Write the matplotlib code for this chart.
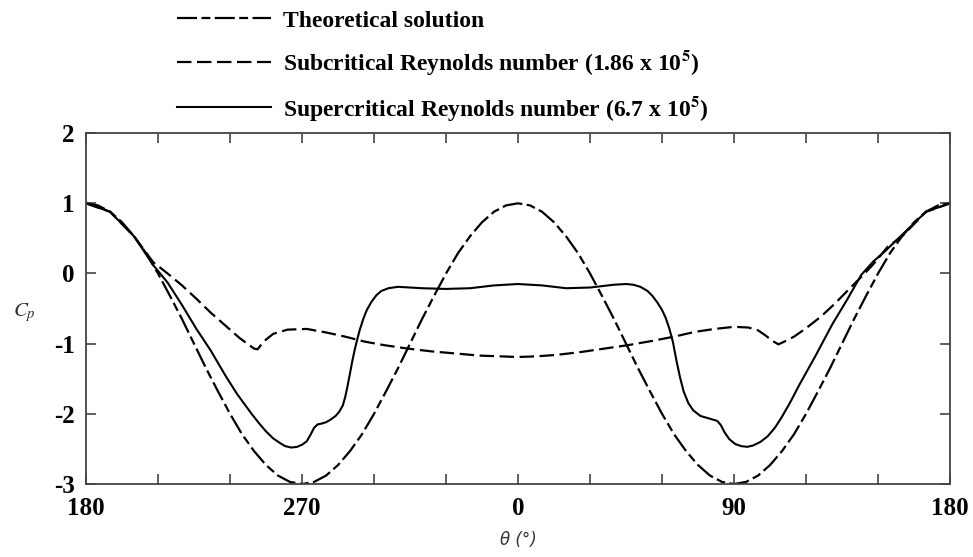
import matplotlib
matplotlib.use("Agg")
import matplotlib.pyplot as plt
import numpy as np

plt.rcParams['font.family'] = 'Liberation Serif'
plt.rcParams['mathtext.fontset'] = 'stix'
plt.rcParams['axes.unicode_minus'] = False

# theoretical solution, read every 5 deg from 180 (left) through 270, 0, 90 to 180
theta_theory = np.arange(-180, 181, 5)
cp_theory = [1.00, 0.97, 0.88, 0.73, 0.53, 0.29, 0.00, -0.32, -0.65, -1.00,
             -1.35, -1.68, -2.00, -2.29, -2.53, -2.73, -2.88, -2.97, -3.00,
             -2.97, -2.88, -2.73, -2.53, -2.29, -2.00, -1.68, -1.35, -1.00,
             -0.65, -0.32, 0.00, 0.29, 0.53, 0.73, 0.88, 0.97, 1.00,
             0.97, 0.88, 0.73, 0.53, 0.29, 0.00, -0.32, -0.65, -1.00,
             -1.35, -1.68, -2.00, -2.29, -2.53, -2.73, -2.88, -2.97, -3.00,
             -2.97, -2.88, -2.73, -2.53, -2.29, -2.00, -1.68, -1.35, -1.00,
             -0.65, -0.32, 0.00, 0.29, 0.53, 0.73, 0.88, 0.97, 1.00]

# subcritical Re = 1.86e5
theta_sub = [-180, -170, -160, -152, -146, -140, -134, -128, -122, -116, -112, -110, -108.5,
             -106, -102, -96, -88, -80, -72, -64, -56, -46, -36, -26, -16, -8, 0,
             8, 16, 26, 36, 46, 56, 65, 74, 82, 90, 96, 100, 103, 106, 108.5, 111, 115,
             120, 126, 132, 138, 143, 148, 154, 160, 170, 180]
cp_sub = [1.00, 0.88, 0.53, 0.16, 0.00, -0.17, -0.36, -0.56, -0.74, -0.92, -1.02, -1.07, -1.08,
          -0.97, -0.86, -0.80, -0.79, -0.84, -0.90, -0.97, -1.02, -1.07, -1.11, -1.14,
          -1.17, -1.18, -1.19, -1.18, -1.16, -1.12, -1.07, -1.02, -0.96, -0.90, -0.83,
          -0.79, -0.76, -0.77, -0.81, -0.88, -0.96, -1.01, -0.97, -0.90, -0.78, -0.62,
          -0.43, -0.22, -0.05, 0.13, 0.38, 0.53, 0.88, 1.00]

# supercritical Re = 6.7e5
theta_sup = [-180, -170, -160, -152, -146, -140, -134, -128, -122, -117, -114, -111, -108,
             -105, -102, -99, -97, -94.5, -92, -90, -88, -86.5, -85, -83.5, -82, -80, -78,
             -76, -74.5, -73, -72, -71, -70, -69, -68, -67, -66, -64.5, -63, -61, -59,
             -57, -54, -50, -40, -30, -20, -10, 0, 10, 20, 30, 40, 45, 48, 51, 54, 56,
             58, 60, 61.5, 63, 64.5, 66, 67.5, 69, 71, 73, 76, 80, 83, 84.5, 86, 88,
             90.5, 93, 95.5, 98, 101, 104, 107, 110, 113.5, 117, 124, 131, 137, 143,
             148, 153, 160, 170, 180]
cp_sup = [1.00, 0.88, 0.53, 0.12, -0.13, -0.45, -0.79, -1.10, -1.45, -1.72, -1.86, -2.00,
          -2.13, -2.25, -2.35, -2.42, -2.46, -2.48, -2.47, -2.44, -2.39, -2.30, -2.20,
          -2.15, -2.14, -2.12, -2.08, -2.03, -1.97, -1.88, -1.76, -1.60, -1.42, -1.24,
          -1.08, -0.94, -0.81, -0.65, -0.52, -0.40, -0.31, -0.25, -0.21, -0.19, -0.21,
          -0.22, -0.21, -0.17, -0.15, -0.17, -0.21, -0.20, -0.16, -0.15, -0.16, -0.19,
          -0.25, -0.32, -0.41, -0.52, -0.63, -0.78, -0.97, -1.24, -1.48, -1.68, -1.85,
          -1.95, -2.03, -2.07, -2.10, -2.16, -2.26, -2.36, -2.43, -2.46, -2.47, -2.45,
          -2.40, -2.32, -2.20, -2.04, -1.83, -1.60, -1.17, -0.72, -0.38, -0.02, 0.17,
          0.32, 0.55, 0.88, 1.00]

xticks = [-180, -90, 0, 90, 180]
xticklabels = ['180', '270', '0', '90', '180']

fig = plt.figure(figsize=(9.73, 5.57), dpi=100)
ax = fig.add_axes([0.0884, 0.131, 0.888, 0.630])

ax.plot(theta_theory, cp_theory, color='black', lw=1.6, dashes=(9, 2, 4, 2),
        label='Theoretical solution')
ax.plot(theta_sub, cp_sub, color='black', lw=1.6, dashes=(6.5, 2.5),
        label='Subcritical Reynolds number (1.86 x 10$^{\\mathbf{5}}$)')
ax.plot(theta_sup, cp_sup, color='black', lw=1.5, solid_joinstyle='round',
        label='Supercritical Reynolds number (6.7 x 10$^{\\mathbf{5}}$)')

ax.set_xlim(-180, 180)
ax.set_ylim(-3, 2)
ax.set_xticks(np.arange(-180, 181, 30), minor=True)
ax.set_xticks(xticks)
ax.set_xticklabels(xticklabels)
ax.set_yticks([-3, -2, -1, 0, 1, 2])
ax.tick_params(which='both', direction='in', top=True, right=True, length=7,
               width=1.2, color='#444444', labelsize=18, pad=9)
for lab in ax.get_xticklabels() + ax.get_yticklabels():
    lab.set_fontweight('bold')
ax.tick_params(axis='y', pad=8)
for s in ax.spines.values():
    s.set_color('#444444')
    s.set_linewidth(1.3)

ax.set_xlabel('θ (°)', fontsize=12, fontstyle='italic', family='DejaVu Sans',
              color='#333333', labelpad=8)
ax.set_ylabel('$C_p$', fontsize=15, rotation=0, color='#333333', va='center')
ax.yaxis.set_label_coords(-0.071, 0.49)

fig.legend(loc='upper left', bbox_to_anchor=(0.16, 1.02), frameon=False,
           prop={'family': 'Liberation Serif', 'weight': 'bold', 'size': 17},
           handlelength=4.0, handletextpad=0.5, labelspacing=0.7)

fig.savefig('out.png', dpi=100)
